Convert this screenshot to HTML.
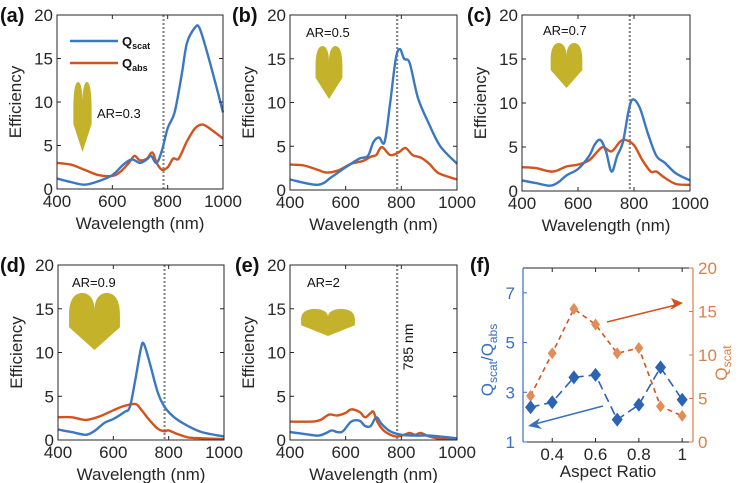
<!DOCTYPE html>
<html><head><meta charset="utf-8"><style>
html,body{margin:0;padding:0;background:#fff;}
svg{display:block;font-family:"Liberation Sans",Arial,sans-serif;}
</style></head><body>
<svg id="fig" width="738" height="483" viewBox="0 0 738 483" xmlns="http://www.w3.org/2000/svg"></svg>
<script>
// ---------- data ----------
const aScatWl=[400,450,500,550,600,640,670,700,725,740,760,780,800,825,850,870,900,915,940,970,1000];
const aScatV=[1.2,0.8,0.5,0.9,1.6,2.8,3.4,3.0,3.4,3.8,3.0,4.5,7.0,8.8,13,16.8,18.6,18.5,16,12.5,8.8];
const aAbsWl=[400,450,500,550,600,630,660,680,700,725,745,760,780,800,820,840,870,900,925,950,1000];
const aAbsV=[3.0,2.8,2.2,1.6,1.5,2.0,3.0,3.8,3.3,3.5,4.2,3.0,2.2,2.5,3.5,3.5,5.5,7.0,7.4,7.0,5.8];
const bScatWl=[400,500,550,600,650,680,700,720,740,760,780,795,810,830,860,900,940,1000];
const bScatV=[1.2,0.6,1.5,2.6,3.6,3.9,5.5,6.0,5.5,10,15,16.1,15,14.5,10.5,7.5,5,3.0];
const bAbsWl=[400,450,500,530,570,620,660,690,710,730,760,790,815,840,870,900,930,970,1000];
const bAbsV=[2.9,2.8,2.3,2.0,2.2,3.0,3.3,3.8,4.0,4.9,4.0,4.3,4.8,4.0,3.7,3.0,2.0,1.5,1.2];
const cScatWl=[400,450,500,530,560,600,640,660,680,700,720,740,760,780,795,820,850,880,910,950,1000];
const cScatV=[1.2,0.9,0.6,1.0,1.8,2.5,4.0,5.3,5.8,4.5,2.2,4.0,5.5,9.0,10.4,9.5,6.5,4.0,3.2,2.0,1.2];
const cAbsWl=[400,450,510,560,600,640,670,690,720,750,770,800,830,860,880,910,950,1000];
const cAbsV=[2.7,2.6,2.2,2.8,3.0,3.5,4.5,5.0,4.5,5.6,5.8,5.2,3.5,2.2,2.2,1.5,0.8,0.7];
const dScatWl=[400,450,500,530,570,600,640,660,680,700,710,730,760,785,820,870,920,1000];
const dScatV=[1.2,0.9,0.6,1.0,2.0,2.4,3.2,3.8,7.0,10.5,11.0,9.0,5.5,3.8,2.6,1.6,0.9,0.4];
const dAbsWl=[400,450,500,550,600,640,680,700,730,760,785,800,830,870,920,1000];
const dAbsV=[2.6,2.6,2.3,2.7,3.4,3.9,4.1,3.5,2.3,1.3,1.0,1.1,0.7,0.3,0.2,0.1];
const eScatWl=[400,450,500,530,550,570,590,620,650,670,690,710,730,760,800,850,900,1000];
const eScatV=[0.9,0.7,0.5,0.8,1.1,0.9,1.0,2.1,2.2,1.6,1.6,2.6,1.8,1.0,0.6,0.5,0.5,0.2];
const eAbsWl=[400,480,510,540,570,600,620,650,670,690,700,715,740,780,810,830,850,870,900,950,1000];
const eAbsV=[2.1,2.1,2.3,2.9,2.8,3.1,3.5,3.2,2.6,3.1,3.2,2.0,1.0,0.4,0.6,0.8,0.6,0.8,0.4,0.1,0.1];
const xTicks=[400,600,800,1000];
const yTicks=[0,5,10,15,20];
// panel f
const fAR=[0.3,0.4,0.5,0.6,0.7,0.8,0.9,1.0];
const fRatio=[2.4,2.6,3.6,3.7,1.9,2.5,4.0,2.7];
const fQscat=[5.3,10.2,15.3,13.5,10.2,10.8,4.1,3.0];
const fXTicks=[0.4,0.6,0.8,1];
const fLeftTicks=[1,3,5,7];
const fRightTicks=[0,5,10,15,20];

const NS="http://www.w3.org/2000/svg";
const svg=document.getElementById('fig');
const BLUE="#3b78c2", ORANGE="#d2531d", AX="#262626";
function el(tag,attrs,parent){const e=document.createElementNS(NS,tag);for(const k in attrs)e.setAttribute(k,attrs[k]);(parent||svg).appendChild(e);return e;}
function txt(s,attrs,parent){const e=el('text',attrs,parent);e.textContent=s;return e;}
function smooth(pts){
  let d='M'+pts[0][0].toFixed(1)+','+pts[0][1].toFixed(1);
  for(let i=0;i<pts.length-1;i++){
    const p0=pts[Math.max(0,i-1)],p1=pts[i],p2=pts[i+1],p3=pts[Math.min(pts.length-1,i+2)];
    const c1x=p1[0]+(p2[0]-p0[0])/6,c1y=p1[1]+(p2[1]-p0[1])/6;
    const c2x=p2[0]-(p3[0]-p1[0])/6,c2y=p2[1]-(p3[1]-p1[1])/6;
    d+=` C${c1x.toFixed(1)},${c1y.toFixed(1)} ${c2x.toFixed(1)},${c2y.toFixed(1)} ${p2[0].toFixed(1)},${p2[1].toFixed(1)}`;
  }
  return d;
}

const HEART="M0.5,0.3 C0.5,0.08 0.38,0 0.27,0 C0.1,0 0.02,0.15 0.02,0.38 L0.02,0.6 L0.5,1 L0.98,0.6 L0.98,0.38 C0.98,0.15 0.9,0 0.73,0 C0.62,0 0.5,0.08 0.5,0.3 Z";

function panel(p){
  const g=el('g',{});
  
  
  const L=p.L,R=p.R,T=p.T,B=p.B;
  const sx=v=>L+(v-400)/600*(R-L);
  const sy=v=>B-v/20*(B-T);
  const h=el('path',{d:HEART,fill:"#c4b22b",transform:`translate(${p.hx},${p.hy}) scale(${p.hw},${p.hh})`},g);
  
  
  const dl=el('line',{x1:sx(785),x2:sx(785),y1:T,y2:B,stroke:"#888",'stroke-width':2.2,'stroke-dasharray':'2 2'},g);
  
  
  const mk=(wl,v)=>smooth(wl.map((w,i)=>[sx(w),sy(v[i])]));
  const ab=el('path',{d:mk(p.absWl,p.absV),fill:'none',stroke:ORANGE,'stroke-width':2.4,'stroke-linejoin':'round'},g);
  
  
  const sc=el('path',{d:mk(p.scWl,p.scV),fill:'none',stroke:BLUE,'stroke-width':2.4,'stroke-linejoin':'round'},g);
  
  
  const bx=el('rect',{x:L,y:T,width:R-L,height:B-T,fill:'none',stroke:AX,'stroke-width':1},g);
  
  
  xTicks.forEach(t=>{
    el('line',{x1:sx(t),x2:sx(t),y1:B,y2:B-4,stroke:AX},g);
    el('line',{x1:sx(t),x2:sx(t),y1:T,y2:T+4,stroke:AX},g);
    const tl=txt(String(t),{x:sx(t),y:B+18,'font-size':17,'text-anchor':'middle',fill:AX},g);
    
    
  });
  yTicks.forEach(t=>{
    el('line',{x1:L,x2:L+4,y1:sy(t),y2:sy(t),stroke:AX},g);
    el('line',{x1:R,x2:R-4,y1:sy(t),y2:sy(t),stroke:AX},g);
    const tl=txt(String(t),{x:L-4,y:sy(t)+6,'font-size':17,'text-anchor':'end',fill:AX},g);
    
    
  });
  const xt=txt('Wavelength (nm)',{x:(L+R)/2,y:B+40,'font-size':17,'text-anchor':'middle',fill:AX},g);
  
  
  const yt=txt('Efficiency',{x:0,y:0,'font-size':17,'text-anchor':'middle',fill:AX,transform:`translate(${L-36},${(T+B)/2}) rotate(-90)`},g);
  
  
  const pl=txt('('+p.id+')',{x:p.lx,y:T+7,'font-size':20,'font-weight':'bold',fill:'#111'},g);
  
  
  const ar=txt(p.ar,{x:p.ax,y:p.ay,'font-size':13,fill:'#111'},g);
  
  
  return {g,sx,sy};
}

panel({id:'a',L:57,R:223,T:15,B:189,scWl:aScatWl,scV:aScatV,absWl:aAbsWl,absV:aAbsV,hx:73,hy:82,hw:19,hh:70,lx:0,ar:'AR=0.3',ax:97,ay:118});
panel({id:'b',L:290,R:457,T:15,B:190,scWl:bScatWl,scV:bScatV,absWl:bAbsWl,absV:bAbsV,hx:315,hy:46,hw:28,hh:53,lx:232,ar:'AR=0.5',ax:306,ay:37});
panel({id:'c',L:522,R:690,T:15,B:191,scWl:cScatWl,scV:cScatV,absWl:cAbsWl,absV:cAbsV,hx:550,hy:43,hw:33,hh:45,lx:467,ar:'AR=0.7',ax:543,ay:35});
panel({id:'d',L:58,R:224,T:265,B:440,scWl:dScatWl,scV:dScatV,absWl:dAbsWl,absV:dAbsV,hx:68,hy:293,hw:53,hh:57,lx:0,ar:'AR=0.9',ax:72,ay:287});
panel({id:'e',L:290,R:457,T:265,B:440,scWl:eScatWl,scV:eScatV,absWl:eAbsWl,absV:eAbsV,hx:300,hy:309,hw:56,hh:27,lx:235,ar:'AR=2',ax:307,ay:287});

// legend in (a)
const lg=el('g',{});


el('line',{x1:70,x2:118,y1:41,y2:41,stroke:BLUE,'stroke-width':2.4},lg);
el('line',{x1:70,x2:118,y1:63,y2:63,stroke:ORANGE,'stroke-width':2.4},lg);
const l1=txt('',{x:122,y:46,'font-size':13,'font-weight':'bold',fill:'#111'},lg);
l1.innerHTML='Q<tspan font-size="9" dy="3">scat</tspan>';


const l2=txt('',{x:122,y:68,'font-size':13,'font-weight':'bold',fill:'#111'},lg);
l2.innerHTML='Q<tspan font-size="9" dy="3">abs</tspan>';



const t785=txt('785 nm',{x:0,y:0,'font-size':14,'text-anchor':'middle',fill:'#111',transform:'translate(413,347) rotate(-90)'});



// ---------- panel f ----------
(function(){
  const L=523,R=693,T=268,B=442;
  const g=el('g',{});
  
  
  const sx=v=>L+(v-0.265)/(1.05-0.265)*(R-L);
  const syL=v=>B-(v-1)/7*(B-T);
  const syR=v=>B-v/20*(B-T);
  const LB="#3a70bf", RO="#d9804a", DB="#2d63b3", LO="#e08d5a";
  el('line',{x1:L,x2:R,y1:T,y2:T,stroke:AX},g);
  el('line',{x1:L,x2:R,y1:B,y2:B,stroke:AX},g);
  el('line',{x1:L,x2:L,y1:T,y2:B,stroke:LB,'stroke-width':1.2},g);
  el('line',{x1:R,x2:R,y1:T,y2:B,stroke:RO,'stroke-width':1.2},g);
  fXTicks.forEach(t=>{
    el('line',{x1:sx(t),x2:sx(t),y1:B,y2:B-4,stroke:AX},g);
    el('line',{x1:sx(t),x2:sx(t),y1:T,y2:T+4,stroke:AX},g);
    const tl=txt(String(t),{x:sx(t),y:B+18,'font-size':17,'text-anchor':'middle',fill:AX},g);
    
    
  });
  fLeftTicks.forEach(t=>{
    el('line',{x1:L,x2:L+4,y1:syL(t),y2:syL(t),stroke:LB},g);
    const tl=txt(String(t),{x:L-8,y:syL(t)+6,'font-size':17,'text-anchor':'end',fill:LB},g);
    
    
  });
  fRightTicks.forEach(t=>{
    el('line',{x1:R,x2:R-4,y1:syR(t),y2:syR(t),stroke:RO},g);
    const tl=txt(String(t),{x:R+5,y:syR(t)+6,'font-size':17,'text-anchor':'start',fill:RO},g);
    
    
  });
  const ol=el('polyline',{points:fAR.map((a,i)=>sx(a)+','+syR(fQscat[i])).join(' '),fill:'none',stroke:ORANGE,'stroke-width':1.6,'stroke-dasharray':'5 4'},g);
  
  
  const bl=el('polyline',{points:fAR.map((a,i)=>sx(a)+','+syL(fRatio[i])).join(' '),fill:'none',stroke:DB,'stroke-width':1.6,'stroke-dasharray':'9 5'},g);
  
  
  fAR.forEach((a,i)=>{
    const x=sx(a),y=syR(fQscat[i]);
    const m=el('path',{d:`M${x},${y-6} L${x+4.5},${y} L${x},${y+6} L${x-4.5},${y} Z`,fill:LO},g);
    
    
  });
  fAR.forEach((a,i)=>{
    const x=sx(a),y=syL(fRatio[i]);
    const m=el('path',{d:`M${x},${y-7} L${x+5.5},${y} L${x},${y+7} L${x-5.5},${y} Z`,fill:DB},g);
    
    
  });
  const a1=el('g',{},g);
  
  
  el('line',{x1:603,y1:406,x2:535,y2:424,stroke:LB,'stroke-width':1.6},a1);
  el('path',{d:'M528,426 L540,418 L537,424 L542,429 Z',fill:LB},a1);
  const a2=el('g',{},g);
  
  
  el('line',{x1:607,y1:322,x2:676,y2:305,stroke:ORANGE,'stroke-width':1.6},a2);
  el('path',{d:'M683,303 L671,298 L674,304 L670,310 Z',fill:ORANGE},a2);
  const xt=txt('Aspect Ratio',{x:(L+R)/2,y:B+35,'font-size':17,'text-anchor':'middle',fill:AX},g);
  
  
  const yl=txt('',{x:0,y:0,'font-size':17,'text-anchor':'middle',fill:LB,transform:`translate(493,${(T+B)/2+5}) rotate(-90)`},g);
  yl.innerHTML='Q<tspan font-size="12" dy="4">scat</tspan><tspan dy="-4">/Q</tspan><tspan font-size="12" dy="4">abs</tspan>';
  
  
  const yr=txt('',{x:0,y:0,'font-size':17,'text-anchor':'middle',fill:RO,transform:`translate(727,${(T+B)/2+8}) rotate(-90)`},g);
  yr.innerHTML='Q<tspan font-size="12" dy="4">scat</tspan>';
  
  
  const pl=txt('(f)',{x:470,y:272,'font-size':20,'font-weight':'bold',fill:'#111'},g);
  
  
})();
</script>
</body></html>
